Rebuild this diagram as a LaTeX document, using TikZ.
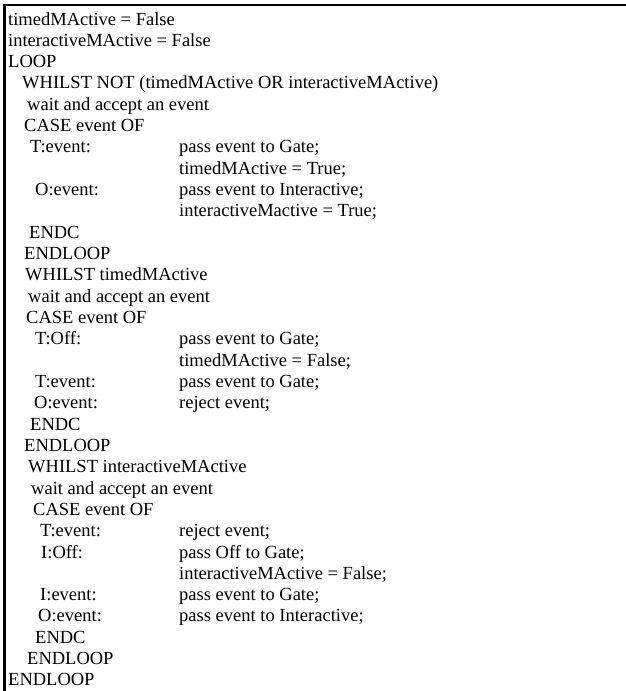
\documentclass[tikz,border=0pt]{standalone}
\usepackage{fontspec}
\setmainfont{Liberation Serif}
\begin{document}
\begin{tikzpicture}[x=1pt,y=-1pt,
  txt/.style={anchor=base west, inner sep=0pt, font=\fontsize{18.5}{21}\selectfont},
  frame/.style={line width=2.6pt, line cap=rect}]
\useasboundingbox (0,0) rectangle (626,691);
\coordinate (fb) at (4.3,691);
\coordinate (fc) at (4.3,5);
\coordinate (fr) at (626,5);
\draw[frame] (fb) -- (fc) -- (fr);
\foreach \i/\x/\t in {
  1/8/{timedMActive = False},
  2/8/{interactiveMActive = False},
  3/8/{LOOP},
  4/22/{WHILST NOT (timedMActive OR interactiveMActive)},
  5/27/{wait and accept an event},
  6/24/{CASE event OF},
  7/30/{T:event:},
  9/35/{O:event:},
  11/29/{ENDC},
  12/24/{ENDLOOP},
  13/25/{WHILST timedMActive},
  14/28/{wait and accept an event},
  15/26/{CASE event OF},
  16/35/{T:Off:},
  18/35/{T:event:},
  19/34/{O:event:},
  20/30/{ENDC},
  21/24/{ENDLOOP},
  22/28/{WHILST interactiveMActive},
  23/31/{wait and accept an event},
  24/33/{CASE event OF},
  25/40/{T:event:},
  26/41/{I:Off:},
  28/40/{I:event:},
  29/38/{O:event:},
  30/35/{ENDC},
  31/27/{ENDLOOP},
  32/8/{ENDLOOP}}
  \node[txt] (l\i) at (\x, {25+(\i-1)*21.32}) {\t};
\foreach \i/\t in {
  7/{pass event to Gate;},
  8/{timedMActive = True;},
  9/{pass event to Interactive;},
  10/{interactiveMactive = True;},
  16/{pass event to Gate;},
  17/{timedMActive = False;},
  18/{pass event to Gate;},
  19/{reject event;},
  25/{reject event;},
  26/{pass Off to Gate;},
  27/{interactiveMActive = False;},
  28/{pass event to Gate;},
  29/{pass event to Interactive;}}
  \node[txt] (c\i) at (179, {25+(\i-1)*21.32}) {\t};
\end{tikzpicture}
\end{document}
